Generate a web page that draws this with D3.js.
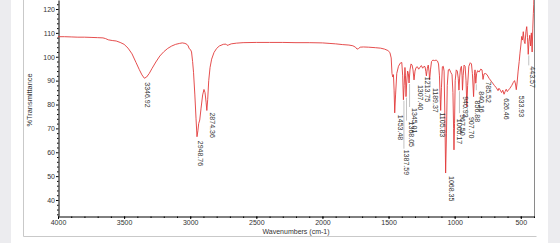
<!DOCTYPE html>
<html>
<head>
<meta charset="utf-8">
<script src="https://cdn.jsdelivr.net/npm/d3@7"></script>
<style>
  body { margin: 0; background: #fff; }
  svg { display: block; font-family: "Liberation Sans", Arial, sans-serif; }
</style>
</head>
<body>
<div id="container"></div>
<script>
const width = 560;
const height = 243;

// spectrum (cm-1 / %T)
const wavenumber = [
  4000, 3950, 3900, 3850, 3800, 3750, 3700, 3660, 3640, 3620, 3590, 3560, 3530, 3500, 3470, 3440, 3410, 3385, 3365, 3346.92,
  3330, 3310, 3290, 3260, 3230, 3200, 3170, 3140, 3110, 3080, 3060, 3040, 3025, 3015, 3008, 2998, 2990, 2982, 2975, 2965,
  2956, 2948.76, 2942, 2936, 2928, 2918, 2906, 2896, 2888, 2880, 2874.36, 2868, 2860, 2850, 2838, 2820, 2800, 2780, 2750, 2730,
  2722, 2712, 2690, 2650, 2600, 2500, 2400, 2300, 2200, 2100, 2000, 1950, 1900, 1850, 1800, 1770, 1750, 1738, 1728, 1715,
  1690, 1650, 1600, 1560, 1530, 1505, 1490, 1480, 1474, 1468, 1463, 1458, 1453.48, 1447, 1438, 1425, 1412, 1400, 1393, 1387.59,
  1382, 1376, 1372, 1368.05, 1363, 1356, 1350, 1345.01, 1338, 1330, 1322, 1315, 1307.40, 1300, 1292, 1282, 1272, 1262, 1252, 1242,
  1232, 1224, 1218, 1213.75, 1207, 1200, 1194, 1189.37, 1183, 1175, 1165, 1152, 1140, 1130, 1122, 1115, 1109, 1105.83, 1100, 1093,
  1086, 1080, 1074, 1068.35, 1062, 1056, 1048, 1040, 1030, 1020, 1013, 1008, 1005.17, 1001, 996, 988, 980, 973, 967.50, 962,
  956, 949, 944, 940.93, 936, 929, 921, 914, 907.70, 902, 893, 882, 873, 866, 856.88, 851, 846, 840.16, 834, 826,
  815, 803, 793, 785.52, 778, 768, 755, 740, 720, 700, 685, 672, 665, 655, 645, 636, 626.46, 618, 610, 602,
  594, 582, 568, 556, 547, 540, 533.93, 528, 520, 512, 506, 500, 493, 487, 481, 474, 468, 461, 455, 449,
  443.57, 438, 432, 426, 420, 414, 409, 405, 402, 400
];
const transmittance = [
  108.4, 108.4, 108.3, 108.2, 108.2, 108.1, 108.0, 107.9, 107.6, 107.1, 106.8, 106.6, 106.0, 105.2, 103.6, 101.2, 97.6, 94.6, 92.4, 91.0,
  91.5, 93.0, 95.0, 97.8, 100.3, 102.1, 103.5, 104.5, 105.2, 105.6, 105.8, 105.6, 105.2, 104.5, 103.4, 103.0, 102.0, 98.0, 93.5, 84.0,
  74.0, 66.5, 69.0, 72.0, 73.5, 78.5, 84.0, 86.3, 85.0, 81.0, 77.5, 82.0, 90.0, 95.5, 99.0, 101.8, 103.5, 104.5, 105.2, 105.3,
  104.8, 104.9, 105.4, 105.7, 105.9, 106.0, 106.0, 106.0, 105.9, 105.9, 105.8, 105.6, 105.4, 105.1, 104.9, 104.6, 104.0, 103.2, 103.4, 104.0,
  104.1, 104.0, 103.8, 103.6, 103.2, 102.6, 101.8, 99.5, 93.0, 91.5, 92.5, 86.0, 76.5, 84.0, 93.0, 96.0, 97.3, 97.6, 92.0, 82.0,
  88.0, 95.5, 92.0, 83.3, 89.0, 94.0, 93.0, 89.0, 94.5, 97.0, 96.5, 94.5, 90.3, 94.0, 95.5, 95.8, 94.8, 95.6, 96.3, 95.2,
  96.0, 95.8, 93.8, 92.0, 95.0, 96.5, 94.0, 90.3, 94.5, 98.0, 98.6, 98.4, 98.6, 98.2, 97.0, 92.0, 82.0, 77.5, 87.0, 95.8,
  96.0, 94.0, 75.0, 51.3, 68.0, 88.0, 94.5, 94.8, 93.5, 92.5, 85.0, 70.0, 61.0, 72.0, 90.0, 94.5, 94.0, 91.0, 86.0, 91.5,
  95.0, 96.0, 92.0, 86.0, 92.0, 96.5, 96.0, 90.0, 79.0, 88.0, 96.0, 97.5, 97.0, 93.0, 83.3, 92.0, 94.5, 88.9, 93.0, 94.2,
  93.6, 94.8, 94.5, 90.5, 92.8, 93.0, 92.5, 91.0, 89.5, 88.0, 87.0, 85.8, 86.8, 86.0, 85.0, 86.0, 84.3, 85.5, 86.4, 85.4,
  86.0, 86.8, 88.0, 89.3, 90.0, 88.6, 86.2, 89.0, 94.0, 98.0, 101.5, 104.5, 108.5, 107.0, 110.5, 106.5, 105.5, 110.5, 112.6, 108.0,
  101.0, 106.5, 109.0, 104.5, 110.0, 102.0, 112.0, 118.0, 122.0, 126.0
];

const peakLabels = [
  "3346.92", "2948.76", "2874.36", "1453.48", "1387.59", "1368.05", "1345.01", "1307.40", "1213.75", "1189.37", "1105.83",
  "1068.35", "1005.17", "967.50", "940.93", "907.70", "856.88", "840.16", "785.52", "626.46", "533.93", "443.57"
];
const xTicks = [4000, 3500, 3000, 2500, 2000, 1500, 1000, 500];
const yTicks = [40, 50, 60, 70, 80, 90, 100, 110, 120];

// label shifts [dx, dy] in px where the labels crowd
const labelNudge = {
  "2874.36": [2, -2], "1453.48": [2, -2], "1387.59": [0, 46], "1368.05": [2, 21], "1345.01": [2, 21],
  "1307.40": [3, 1], "1213.75": [-2, -3], "1189.37": [2, 4], "1105.83": [-1.5, -2], "1068.35": [2, -1],
  "1005.17": [2, -35], "967.50": [0, 20], "940.93": [0, 2], "907.70": [1.5, 6], "840.16": [2.5, 4],
  "785.52": [1.5, -2], "626.46": [-1, 0], "533.93": [1.5, 2], "443.57": [1, 8]
};

const plotLeft = 58;
const plotRight = 534;
const plotBottom = 216;
const textColor = "#333";

const viz = d3.select("#container").append("svg").attr("width", width).attr("height", height);

// grey bands of the screenshot at both sides
viz.append("rect").attr("x", 0).attr("y", 0).attr("width", 11).attr("height", height).attr("fill", "#ececef");
viz.append("rect").attr("x", 548).attr("y", 0).attr("width", 12).attr("height", height).attr("fill", "#ececef");

// window frame
viz.append("path").attr("d", "M23.5,0V236.5H536.5").attr("fill", "none").attr("stroke", "#c9c9c9").attr("stroke-width", 1);

let xScale = d3.scaleLinear().domain([4000, 400]).range([plotLeft, plotRight]);
let yScale = d3.scaleLinear().domain([33.3, 123.77]).range([plotBottom, 0]);

// right border of the plot
viz.append("line").attr("x1", plotRight + 0.5).attr("x2", plotRight + 0.5).attr("y1", 0).attr("y2", plotBottom + 1)
  .attr("stroke", "#8a8a8a").attr("stroke-width", 1);

// x axis
let xAxisGroup = viz.append("g").attr("transform", "translate(0," + (plotBottom + 0.5) + ")");
xAxisGroup.call(d3.axisBottom(xScale).tickValues(d3.range(4000, 399, -100)).tickSize(1.5).tickSizeOuter(0).tickFormat(""));
let xMajor = viz.append("g").attr("transform", "translate(0," + (plotBottom + 0.5) + ")");
xMajor.call(d3.axisBottom(xScale).tickValues(xTicks).tickSize(2.5).tickSizeOuter(0).tickPadding(1.5).tickFormat(d3.format("d")));
xMajor.select(".domain").remove();
xMajor.selectAll("text").attr("font-size", 7).attr("font-family", "Liberation Sans, Arial, sans-serif").attr("fill", textColor);

// y axis
let minorY = d3.range(34, 124, 2).filter(d => d % 10 != 0);
let yAxisGroup = viz.append("g").attr("transform", "translate(" + (plotLeft + 0.5) + ",0)");
yAxisGroup.call(d3.axisLeft(yScale).tickValues(minorY).tickSize(1.5).tickSizeOuter(0).tickFormat(""));
let yMajor = viz.append("g").attr("transform", "translate(" + (plotLeft + 0.5) + ",0)");
yMajor.call(d3.axisLeft(yScale).tickValues(yTicks).tickSize(2.5).tickSizeOuter(0).tickPadding(1).tickFormat(d3.format("d")));
yMajor.select(".domain").remove();
yMajor.selectAll("text").attr("font-size", 7).attr("font-family", "Liberation Sans, Arial, sans-serif").attr("fill", textColor);

viz.append("text").text("Wavenumbers (cm-1)")
  .attr("x", (plotLeft + plotRight) / 2).attr("y", 233.5)
  .attr("text-anchor", "middle").attr("font-size", 7).attr("fill", textColor);

viz.append("text").text("%Transmittance")
  .attr("transform", "translate(32,100) rotate(-90)")
  .attr("text-anchor", "middle").attr("font-size", 7.4).attr("fill", textColor);

// spectrum
viz.append("clipPath").attr("id", "plotClip").append("rect")
  .attr("x", plotLeft).attr("y", 0).attr("width", plotRight - plotLeft).attr("height", plotBottom);

let line = d3.line().x(d => xScale(d[0])).y(d => yScale(d[1]));
viz.append("path")
  .datum(d3.zip(wavenumber, transmittance))
  .attr("clip-path", "url(#plotClip)")
  .attr("d", line)
  .attr("fill", "none")
  .attr("stroke", "#e23a3a")
  .attr("stroke-width", 0.9)
  .attr("stroke-linejoin", "round");

// peak labels hang below the peaks
let peaks = viz.selectAll(".peak").data(peakLabels).enter().append("g").attr("class", "peak");
peaks.each(function(label) {
  let i = wavenumber.indexOf(+label);
  let nudge = labelNudge[label] || [0, 0];
  let px = xScale(wavenumber[i]);
  let tip = yScale(transmittance[i]);
  let top = tip + 4 + nudge[1];
  let g = d3.select(this);
  if (top - tip > 6) {
    g.append("line").attr("x1", px + 0.5).attr("x2", px + 0.5).attr("y1", tip + 1).attr("y2", top - 1)
      .attr("stroke", "#9a9a9a").attr("stroke-width", 0.6);
  }
  g.append("text").text(label)
    .attr("transform", "translate(" + (px + 1 + nudge[0]) + "," + top + ") rotate(90)")
    .attr("font-size", 7).attr("fill", textColor);
});
</script>
</body>
</html>
